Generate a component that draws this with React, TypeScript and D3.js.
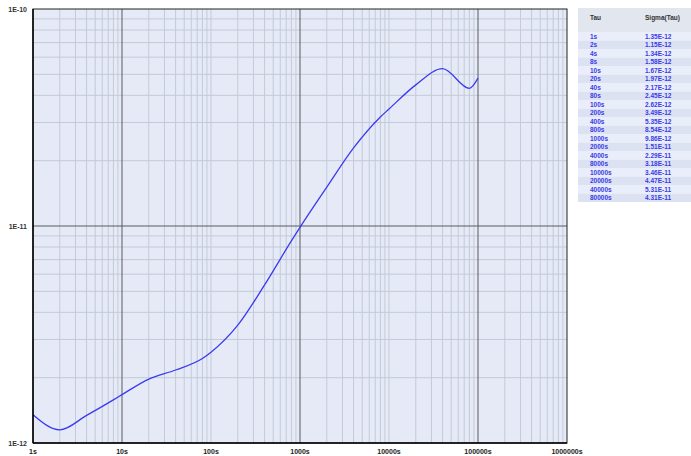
import { scaleLog, line, curveMonotoneX } from "d3";

// table as shown in the side panel
const tauLabels = [
  "1s", "2s", "4s", "8s", "10s", "20s", "40s", "80s", "100s", "200s",
  "400s", "800s", "1000s", "2000s", "4000s", "8000s", "10000s", "20000s",
  "40000s", "80000s",
];
const tauValues = [
  1, 2, 4, 8, 10, 20, 40, 80, 100, 200, 400, 800, 1000, 2000, 4000, 8000,
  10000, 20000, 40000, 80000,
];
const sigmaValues = [
  1.35e-12, 1.15e-12, 1.34e-12, 1.58e-12, 1.67e-12, 1.97e-12, 2.17e-12,
  2.45e-12, 2.62e-12, 3.49e-12, 5.35e-12, 8.54e-12, 9.86e-12, 1.51e-11,
  2.29e-11, 3.18e-11, 3.46e-11, 4.47e-11, 5.31e-11, 4.31e-11,
];
// the plotted curve runs one step further than the table
const lastTau = 100000;
const lastSigma = 4.8e-11;

const xTickLabels = ["1s", "10s", "100s", "1000s", "10000s", "100000s", "1000000s"];
const yTickLabels = ["1E-12", "1E-11", "1E-10"];

const fmt = (v: number) => v.toExponential(2).replace("e", "E");

export default function App() {
  const plot = { left: 33, right: 567, top: 9, bottom: 443 };

  const x = scaleLog().domain([1, 1e6]).range([plot.left, plot.right]);
  const y = scaleLog().domain([1e-12, 1e-10]).range([plot.bottom, plot.top]);

  const xs = [...tauValues, lastTau];
  const ys = [...sigmaValues, lastSigma];
  const pts: [number, number][] = xs.map((t, i) => [t, ys[i]]);

  const path = line<[number, number]>()
    .x((d) => x(d[0]))
    .y((d) => y(d[1]))
    .curve(curveMonotoneX)(pts);

  // minor grid: 2..9 in every decade
  const xMinor: number[] = [];
  for (let e = 0; e < 6; e++) for (let k = 2; k <= 9; k++) xMinor.push(k * 10 ** e);
  const yMinor: number[] = [];
  for (let e = -12; e < -10; e++) for (let k = 2; k <= 9; k++) yMinor.push(k * 10 ** e);

  const xMajor = xTickLabels.map((_, i) => 10 ** i);
  const yMajor = yTickLabels.map((_, i) => 10 ** (i - 12));

  const font = "'Liberation Sans', Arial, sans-serif";
  const tbl = { x: 578, w: 113, top: 8, head: 24, row: 8.5 };

  return (
    <svg
      width={691}
      height={456}
      style={{ position: "absolute", left: 0, top: 0, background: "#fff" }}
      fontFamily={font}
    >
      <rect
        x={plot.left}
        y={plot.top}
        width={plot.right - plot.left}
        height={plot.bottom - plot.top}
        fill="#e6eaf7"
      />
      {xMinor.map((v) => (
        <line key={`xm${v}`} x1={x(v)} x2={x(v)} y1={plot.top} y2={plot.bottom} stroke="#c3cad8" strokeWidth={1} />
      ))}
      {yMinor.map((v) => (
        <line key={`ym${v}`} x1={plot.left} x2={plot.right} y1={y(v)} y2={y(v)} stroke="#c3cad8" strokeWidth={1} />
      ))}
      {xMajor.map((v, i) =>
        i > 0 && i < 6 ? (
          <line
            key={`xM${v}`}
            x1={x(v)}
            x2={x(v)}
            y1={plot.top}
            y2={plot.bottom}
            stroke={i % 2 === 1 ? "#5a5a5e" : "#c3cad8"}
            strokeWidth={1}
          />
        ) : null
      )}
      <line x1={plot.left} x2={plot.right} y1={y(1e-11)} y2={y(1e-11)} stroke="#5a5a5e" strokeWidth={1} />

      <path d={path ?? ""} fill="none" stroke="#3a3af0" strokeWidth={1.3} />

      <rect
        x={plot.left}
        y={plot.top}
        width={plot.right - plot.left}
        height={plot.bottom - plot.top}
        fill="none"
        stroke="#222"
        strokeWidth={1}
      />
      <line x1={plot.left} x2={plot.left} y1={plot.top} y2={plot.bottom} stroke="#000" strokeWidth={1.5} />
      <line x1={plot.left} x2={plot.right} y1={plot.bottom} y2={plot.bottom} stroke="#000" strokeWidth={1.5} />

      {xMajor.map((v, i) => (
        <text key={`xl${v}`} x={x(v)} y={454} fontSize={7} textAnchor="middle" fill="#222" fontWeight="bold">
          {xTickLabels[i]}
        </text>
      ))}
      {yMajor.map((v, i) => (
        <text key={`yl${v}`} x={27} y={y(v) + 2.5} fontSize={7} textAnchor="end" fill="#333" fontWeight="bold">
          {yTickLabels[i]}
        </text>
      ))}

      {/* side table */}
      <rect x={tbl.x} y={tbl.top} width={tbl.w} height={tbl.head} fill="#e2e6ee" />
      <text x={590} y={tbl.top + 12} fontSize={6.5} fontWeight="bold" fill="#333">Tau</text>
      <text x={645} y={tbl.top + 12} fontSize={6.5} fontWeight="bold" fill="#333">Sigma(Tau)</text>
      {tauLabels.map((lab, i) => {
        const ry = tbl.top + tbl.head + i * tbl.row;
        return (
          <g key={`r${lab}`}>
            <rect x={tbl.x} y={ry} width={tbl.w} height={tbl.row} fill={i % 2 === 0 ? "#eaeefa" : "#dce2f2"} />
            <text x={590} y={ry + 6.5} fontSize={6.5} fontWeight="bold" fill="#3a3ae8">{lab}</text>
            <text x={645} y={ry + 6.5} fontSize={6.5} fontWeight="bold" fill="#3a3ae8">{fmt(sigmaValues[i])}</text>
          </g>
        );
      })}
    </svg>
  );
}
